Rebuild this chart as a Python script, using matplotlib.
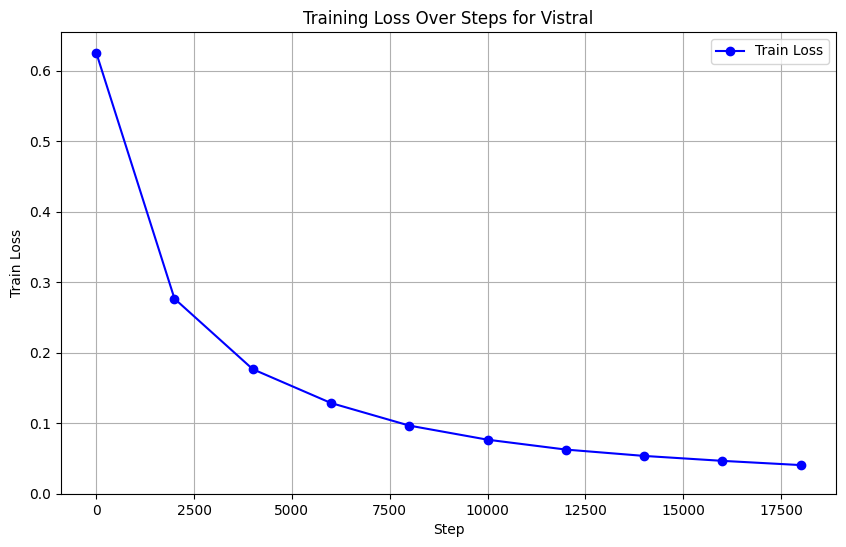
import matplotlib
matplotlib.use("Agg")
import matplotlib.pyplot as plt

# Data
steps = [0, 2000, 4000, 6000, 8000, 10000, 12000, 14000, 16000, 18000]
train_loss = [0.626, 0.277, 0.177, 0.129, 0.097, 0.077, 0.063, 0.054, 0.047, 0.041]

fig = plt.figure(figsize=(8.46, 5.47), dpi=100)
ax = fig.add_axes([0.0721, 0.0969, 0.916, 0.8446])

ax.plot(steps, train_loss, marker='o', color='blue', label='Train Loss')
ax.set_title('Training Loss Over Steps for Vistral')
ax.set_xlabel('Step')
ax.set_ylabel('Train Loss')
ax.set_ylim(0, None)
ax.grid(True)
ax.legend()

fig.savefig('out.png', dpi=100)
